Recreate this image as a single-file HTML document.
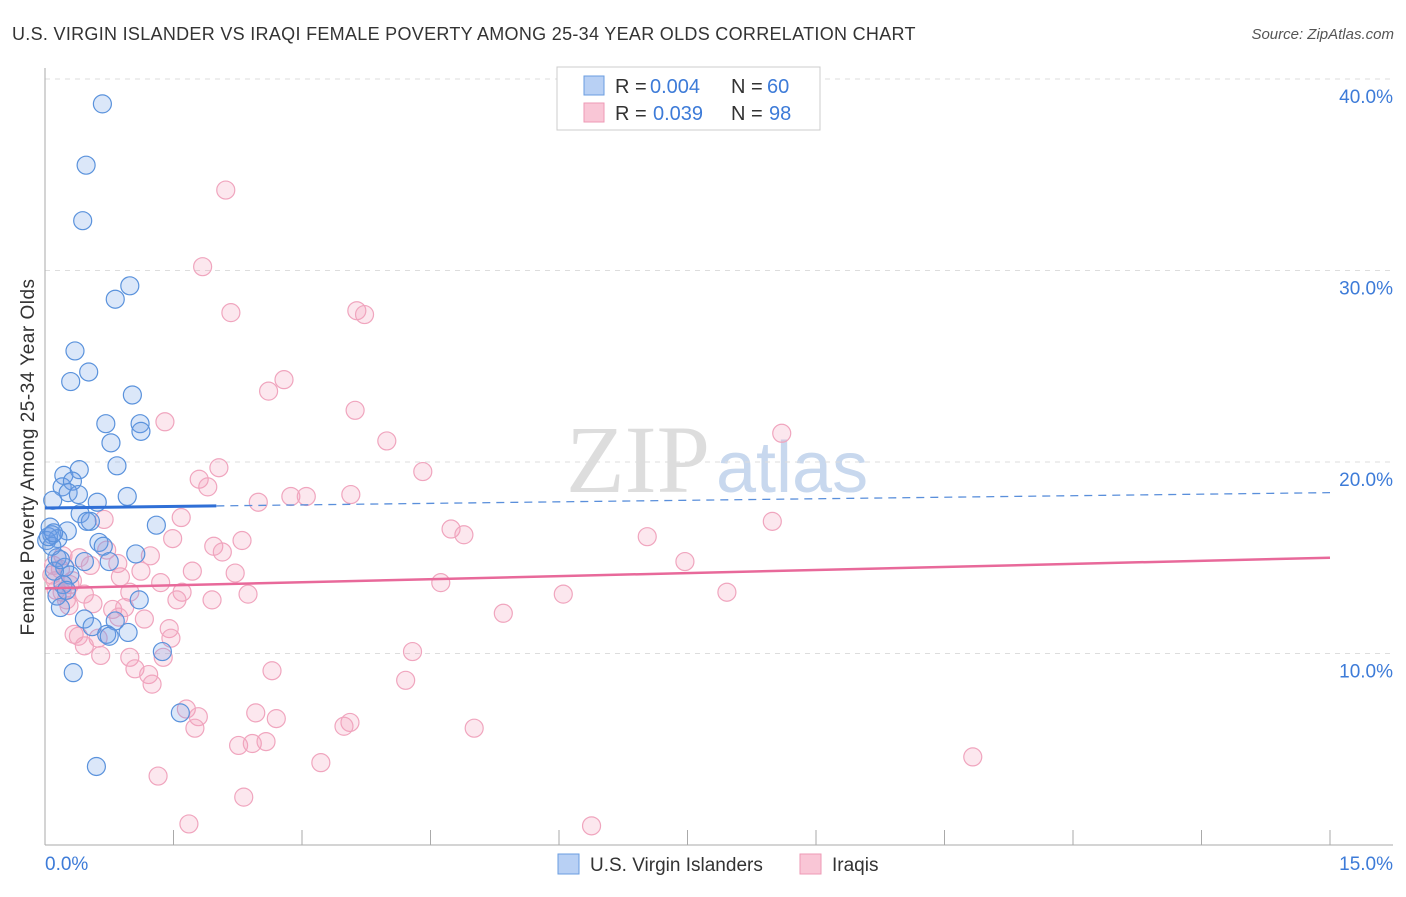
<!DOCTYPE html>
<html><head><meta charset="utf-8"><style>
body{margin:0;background:#fff;font-family:"Liberation Sans",sans-serif}
</style></head><body>
<svg id="c" width="1406" height="892" xmlns="http://www.w3.org/2000/svg">
<text x="12" y="40" font-size="18" fill="#333" letter-spacing="0.3">U.S. VIRGIN ISLANDER VS IRAQI FEMALE POVERTY AMONG 25-34 YEAR OLDS CORRELATION CHART</text>
<text x="1394" y="39" font-size="15" fill="#555" font-style="italic" text-anchor="end">Source: ZipAtlas.com</text>
<text x="710" y="492" font-size="96" fill="#ddd" font-family="Liberation Serif,serif" text-anchor="end">ZIP</text>
<text x="716" y="492" font-size="72" fill="#c8d8ee" text-anchor="start">atlas</text>
<g id="grid"></g><g id="axes"></g><g id="pts"></g><g id="lines"></g>
<text transform="translate(34,457) rotate(-90)" font-size="19" letter-spacing="0.5" fill="#333" text-anchor="middle">Female Poverty Among 25-34 Year Olds</text>
<g>
<rect x="557" y="67" width="263" height="63" fill="#fff" stroke="#ccc"/>
<rect x="584" y="76" width="20" height="19" fill="#b8d0f4" stroke="#6a9de0"/>
<rect x="584" y="103" width="20" height="19" fill="#f9c6d6" stroke="#ee9ab5"/>
<text x="615" y="93" font-size="20" fill="#333">R =</text>
<text x="650" y="93" font-size="20" fill="#3d7bd8">0.004</text>
<text x="731" y="93" font-size="20" fill="#333">N =</text>
<text x="767" y="93" font-size="20" fill="#3d7bd8">60</text>
<text x="615" y="120" font-size="20" fill="#333">R =</text>
<text x="653" y="120" font-size="20" fill="#3d7bd8">0.039</text>
<text x="731" y="120" font-size="20" fill="#333">N =</text>
<text x="769" y="120" font-size="20" fill="#3d7bd8">98</text>
</g>
<g>
<rect x="558" y="854" width="21" height="20" fill="#b8d0f4" stroke="#6a9de0"/>
<text x="590" y="871" font-size="19" fill="#333">U.S. Virgin Islanders</text>
<rect x="800" y="854" width="21" height="20" fill="#f9c6d6" stroke="#ee9ab5"/>
<text x="832" y="871" font-size="19" fill="#333">Iraqis</text>
</g>
</svg>
<script>
const xTicks=[0,15];
const yTicks=[10,20,30,40];
const blueX=[0.67,0.48,0.44,0.99,0.82,0.35,0.51,0.30,1.02,0.71,1.11,1.12,0.77,0.84,0.22,0.40,0.20,0.32,0.27,0.39,0.09,0.61,0.96,0.41,0.53,0.49,1.30,0.26,0.06,0.08,0.15,0.02,0.63,0.68,1.06,0.75,0.14,0.46,0.23,0.29,0.11,0.21,0.14,1.10,0.18,0.46,0.55,0.82,0.72,0.97,1.37,0.33,1.58,0.60,0.75,0.18,0.08,0.25,0.04,0.10];
const blueY=[38.7,35.5,32.6,29.2,28.5,25.8,24.7,24.2,23.5,22.0,22.0,21.6,21.0,19.8,19.3,19.6,18.7,19.0,18.4,18.3,18.0,17.9,18.2,17.3,16.9,16.9,16.7,16.4,16.6,16.2,16.0,15.9,15.8,15.6,15.2,14.8,15.0,14.8,14.5,14.1,14.3,13.6,13.0,12.8,12.4,11.8,11.4,11.7,11.0,11.1,10.1,9.0,6.9,4.1,10.9,14.9,15.6,13.3,16.1,16.3];
const pinkX=[2.11,1.84,2.17,3.64,3.73,2.79,2.61,3.62,1.40,3.99,8.60,4.41,2.03,1.80,1.90,2.87,3.05,3.57,2.49,1.59,0.69,8.49,4.74,4.89,7.03,1.49,2.30,1.97,2.07,0.72,1.23,0.21,7.47,0.85,0.53,2.22,1.72,1.12,0.88,1.35,4.62,0.29,1.60,0.20,0.46,0.99,2.37,6.05,7.96,1.54,1.95,0.56,0.28,0.79,0.93,5.35,0.86,1.16,0.34,1.45,0.39,0.62,1.47,0.46,0.65,0.99,1.38,4.29,1.05,2.65,1.21,1.25,4.21,1.65,1.79,2.46,2.70,1.75,3.56,3.49,5.01,2.26,2.42,2.58,3.22,10.83,1.32,2.32,1.68,6.38,0.08,0.13,0.12,0.18,0.25,0.32,0.10,0.40];
const pinkY=[34.2,30.2,27.8,27.9,27.7,24.3,23.7,22.7,22.1,21.1,21.5,19.5,19.7,19.1,18.7,18.2,18.2,18.3,17.9,17.1,17.0,16.9,16.5,16.2,16.1,16.0,15.9,15.6,15.3,15.4,15.1,15.1,14.8,14.7,14.6,14.2,14.3,14.3,14.0,13.7,13.7,13.6,13.2,13.2,13.1,13.2,13.1,13.1,13.2,12.8,12.8,12.6,12.5,12.3,12.4,12.1,11.9,11.8,11.0,11.3,10.9,10.8,10.8,10.4,9.9,9.8,9.8,10.1,9.2,9.1,8.9,8.4,8.6,7.1,6.7,6.9,6.6,6.1,6.4,6.2,6.1,5.2,5.3,5.4,4.3,4.6,3.6,2.5,1.1,1.0,14.1,13.3,13.8,14.4,12.8,13.8,14.6,15.0];
const blueLine=[17.6,18.4];
const pinkLine=[13.4,15.0];
const X=v=>45+v*(1285/15), Y=v=>845-v*19.15;
const NS="http://www.w3.org/2000/svg";
function mk(t,a,p){const e=document.createElementNS(NS,t);for(const k in a)e.setAttribute(k,a[k]);document.getElementById(p).appendChild(e);return e;}
yTicks.forEach(v=>{
 const g=mk('line',{x1:45,x2:1393,y1:Y(v),y2:Y(v),stroke:'#ddd','stroke-dasharray':'5,5'},'grid');
 
 
 const t=mk('text',{x:1393,y:Y(v)+24,'font-size':19,fill:'#3d7bd8','text-anchor':'end'},'axes');
 t.textContent=v.toFixed(1)+'%';
 
 
});
mk('line',{x1:45,x2:45,y1:68,y2:845,stroke:'#aaa'},'axes');
mk('line',{x1:45,x2:1393,y1:845,y2:845,stroke:'#aaa'},'axes');
for(let i=1;i<=10;i++){const tk=mk('line',{x1:X(i*1.5),x2:X(i*1.5),y1:830,y2:845,stroke:'#aaa'},'axes');}
xTicks.forEach((v,i)=>{
 const t=mk('text',{x:i?1393:45,y:870,'font-size':19,fill:'#3d7bd8','text-anchor':i?'end':'start'},'axes');
 t.textContent=v.toFixed(1)+'%';
 
 
});
pinkX.forEach((x,i)=>{
 const c=mk('circle',{cx:X(x),cy:Y(pinkY[i]),r:9,fill:'rgba(244,160,188,0.25)',stroke:'#f0a5be','stroke-width':1.2},'pts');
 
 
});
blueX.forEach((x,i)=>{
 const c=mk('circle',{cx:X(x),cy:Y(blueY[i]),r:9,fill:'rgba(110,160,230,0.25)',stroke:'#5a92dc','stroke-width':1.2},'pts');
 
 
});
const bl=v=>blueLine[0]+(blueLine[1]-blueLine[0])*v/15;
const l1=mk('line',{x1:X(0),y1:Y(bl(0)),x2:X(2),y2:Y(bl(2)),stroke:'#2f6fd6','stroke-width':3},'lines');


const l2=mk('line',{x1:X(2),y1:Y(bl(2)),x2:X(15),y2:Y(bl(15)),stroke:'#5a8fdb','stroke-width':1.3,'stroke-dasharray':'8,6'},'lines');


const l3=mk('line',{x1:X(0),y1:Y(pinkLine[0]),x2:X(15),y2:Y(pinkLine[1]),stroke:'#e8699a','stroke-width':2.5},'lines');


</script>
</body></html>
